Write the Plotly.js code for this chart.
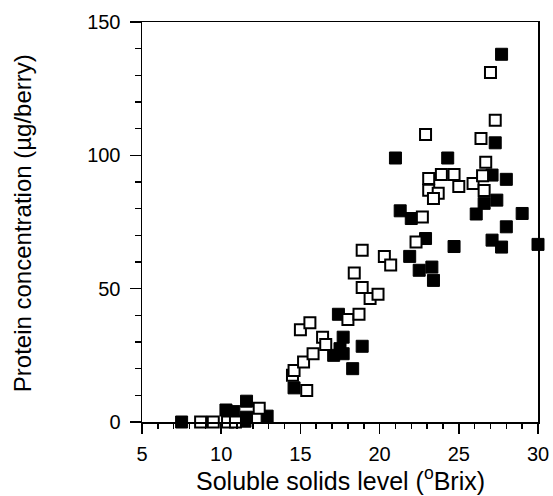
<!DOCTYPE html>
<html>
<head>
<meta charset="utf-8">
<script src="https://cdn.plot.ly/plotly-3.0.1.min.js"></script>
<style>html,body{margin:0;padding:0;background:#fff;}#chart{width:553px;height:496px;}</style>
</head>
<body>
<div id="chart"></div>
<script>
// Filled squares series
var filledX = [7.5, 10.3, 10.8, 11.6, 11.6, 11.5, 12.9,
  14.6, 17.4, 17.7, 17.5, 17.1, 17.7, 18.9, 18.3,
  21.0, 24.3, 28.0, 27.1, 27.4, 26.6, 26.1, 29.0, 28.0, 27.1, 27.7, 30.0, 24.7,
  21.3, 22.0, 22.9, 21.9, 22.5, 23.3, 23.4, 27.7, 27.3];
var filledY = [0, 4.5, 3.9, 7.8, 1.8, 0.3, 2.2,
  12.8, 40.4, 31.8, 27.5, 25.0, 25.6, 28.4, 20.0,
  99, 99, 91, 92.6, 83.2, 82, 78, 78.2, 73.2, 68.2, 65.6, 66.6, 65.8,
  79.2, 76.3, 68.8, 62.1, 56.9, 58.1, 53.1, 137.9, 104.7];

// Open squares series
var openX = [8.7, 9.5, 10.4, 10.9, 12.4,
  14.5, 14.6, 15.2, 15.8, 15.4, 15.0, 15.6, 16.4, 16.6, 18.0, 18.7, 18.4, 18.9, 18.9, 19.4, 19.9, 20.3, 20.7,
  22.3, 22.7, 23.1, 23.9, 24.7, 25.0, 23.1, 23.7, 23.4, 25.9, 26.5, 26.7, 26.6,
  27.0, 27.3, 22.9, 26.4];
var openY = [0, 0, 0, 0, 5.2,
  17.5, 19.3, 22.5, 25.6, 11.8, 34.6, 37.2, 31.8, 29.1, 38.4, 40.4, 55.9, 50.4, 64.4, 46.3, 47.9, 62.1, 58.9,
  67.5, 76.9, 91.3, 92.8, 92.8, 88.3, 86.9, 85.8, 83.8, 89.4, 92.3, 97.4, 86.8,
  131.1, 113.2, 107.8, 106.3];

var xTicks = [5, 10, 15, 20, 25, 30];
var yTicks = [0, 50, 100, 150];
var xTitle = 'Soluble solids level (<sup>o</sup>Brix)';
var yTitle = 'Protein concentration (µg/berry)';

var fontFam = '"Liberation Sans", Arial, Helvetica, sans-serif';

var traces = [
  {x: filledX, y: filledY, type: 'scatter', mode: 'markers', name: 'filled',
   marker: {symbol: 'square', size: 12, color: '#000', line: {color: '#000', width: 1}}, cliponaxis: false},
  {x: openX, y: openY, type: 'scatter', mode: 'markers', name: 'open',
   marker: {symbol: 'square', size: 11, color: '#fff', line: {color: '#000', width: 2}}, cliponaxis: false}
];

var layout = {
  width: 553, height: 496,
  margin: {l: 142, r: 15, t: 22, b: 74},
  paper_bgcolor: '#fff', plot_bgcolor: '#fff',
  showlegend: false,
  font: {family: fontFam, color: '#000', size: 20},
  xaxis: {
    range: [5, 30], tickvals: xTicks, ticktext: xTicks.map(String),
    ticks: 'outside', ticklen: 10, tickwidth: 1.5, tickcolor: '#000',
    minor: {dtick: 1, ticks: 'outside', ticklen: 5, tickwidth: 1.5, tickcolor: '#000'},
    showline: true, linecolor: '#000', linewidth: 1.5, mirror: true,
    showgrid: false, zeroline: false, ticklabelstandoff: 3,
    tickfont: {size: 20}
  },
  yaxis: {
    range: [0, 150], tickvals: yTicks, ticktext: yTicks.map(String),
    ticks: 'outside', ticklen: 11, tickwidth: 1.5, tickcolor: '#000',
    minor: {dtick: 10, ticks: 'outside', ticklen: 6, tickwidth: 1.5, tickcolor: '#000'},
    showline: true, linecolor: '#000', linewidth: 1.5, mirror: true,
    showgrid: false, zeroline: false, ticklabelstandoff: 5,
    tickfont: {size: 20}
  },
  annotations: [
    {text: xTitle, xref: 'paper', yref: 'paper', x: 0.5, y: 0, xanchor: 'center', yanchor: 'middle',
     yshift: -57, showarrow: false, font: {size: 25}},
    {text: yTitle, xref: 'paper', yref: 'paper', x: 0, y: 0.497, xanchor: 'center', yanchor: 'middle',
     xshift: -120, textangle: -90, showarrow: false, font: {size: 24}}
  ]
};

Plotly.newPlot('chart', traces, layout, {staticPlot: true, displayModeBar: false});
</script>
</body>
</html>
